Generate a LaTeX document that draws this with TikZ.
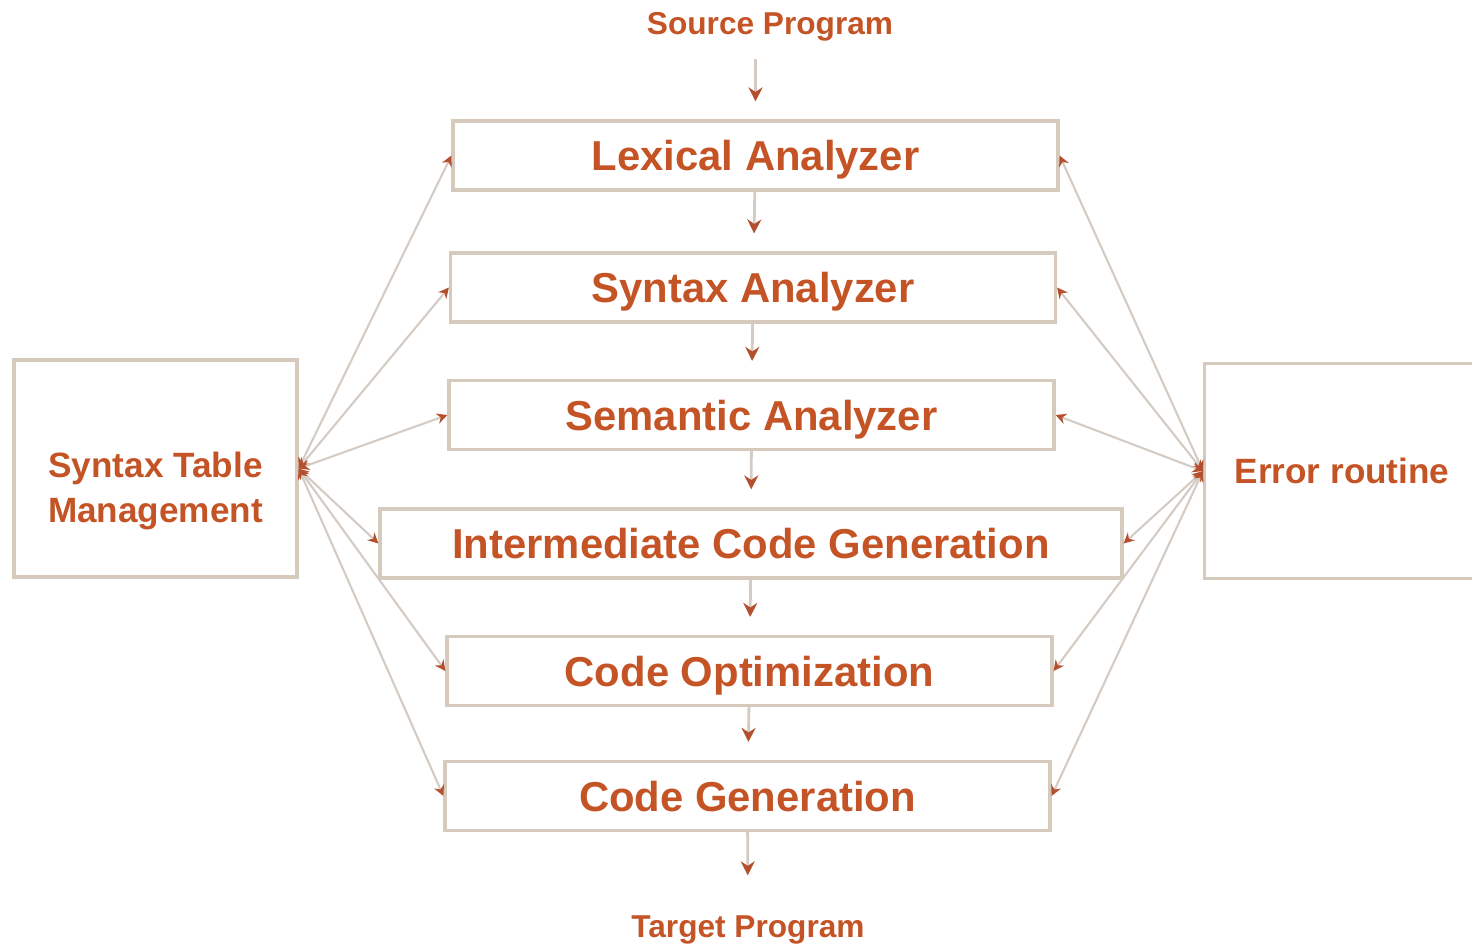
\documentclass[tikz,border=0pt]{standalone}
\usepackage{fontspec}
\setmainfont{Liberation Sans}
\usetikzlibrary{arrows.meta, positioning}

\definecolor{txtorange}{RGB}{196,84,38}
\definecolor{boxline}{RGB}{214,202,188}
\definecolor{wireline}{RGB}{212,204,196}
\definecolor{tipred}{RGB}{180,80,45}

\begin{document}
\begin{tikzpicture}[
    stage/.style={draw=boxline, line width=0.9pt, minimum width=6.05cm, minimum height=0.69cm,
                  text height=3mm, text depth=0pt,
                  text=txtorange, font=\fontsize{11.9}{13}\selectfont\bfseries},
    sidebox/.style={draw=boxline, line width=0.9pt, text=txtorange, align=center,
                    font=\fontsize{10}{13}\selectfont\bfseries},
    label/.style={text=txtorange, font=\fontsize{9}{11}\selectfont\bfseries},
    flow/.style={draw=wireline, line width=0.8pt, -{Stealth[length=4pt, width=4pt, color=tipred]}, shorten >=0.18cm},
    link/.style={draw=wireline, line width=0.6pt, {Stealth[length=3pt, width=3pt, color=tipred]}-{Stealth[length=3pt, width=3pt, color=tipred]}}
  ]
      \useasboundingbox (0,0) rectangle (14.72,-9.49);

      % input and output
      \node[label] (src) at (7.70,-0.27) {Source Program};
      \node[label] (tgt) at (7.48,-9.30) {Target Program};

      % phases
      \node[stage] (lex) at (7.555,-1.555) {Lexical Analyzer};
      \node[stage] (syn) at (7.53,-2.875) {Syntax Analyzer};
      \node[stage] (sem) at (7.515,-4.15) {Semantic Analyzer};
      \node[stage, minimum width=7.42cm] (icg) at (7.51,-5.435) {Intermediate Code Generation};
      \node[stage] (opt) at (7.495,-6.71) {Code Optimization};
      \node[stage] (gen) at (7.475,-7.96) {Code Generation};

      % side boxes
      \node[sidebox, minimum width=2.83cm, minimum height=2.17cm] (stm) at (1.555,-4.685) {\mbox{}\\[0.25cm]Syntax Table\\Management};
      \node[sidebox, minimum width=2.75cm, minimum height=2.15cm, anchor=north west] (err) at (12.03,-3.62) {Error routine};

      % main flow
      \draw[flow, shorten <=0.05cm] (lex.north |- src.south) -- (lex);
      \draw[flow] (lex) -- (syn);
      \draw[flow] (syn) -- (sem);
      \draw[flow] (sem) -- (icg);
      \draw[flow] (icg) -- (opt);
      \draw[flow] (opt) -- (gen);
      \draw[flow, shorten >=0.28cm] (gen) -- (tgt);

      % table links
      \foreach \p in {lex, syn, sem, icg, opt, gen} {
        \draw[link] (stm.east) -- (\p.west);
        \draw[link] (\p.east) -- (err.west);
      }
\end{tikzpicture}
\end{document}
